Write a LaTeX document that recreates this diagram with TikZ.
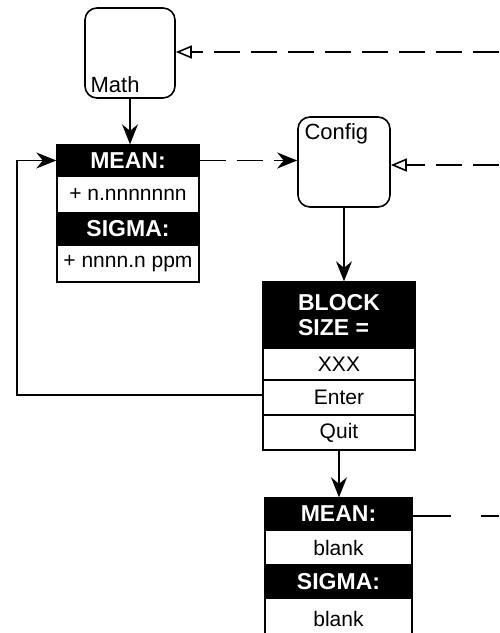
\documentclass[tikz,border=0pt]{standalone}
\usepackage{fontspec}
\setmainfont{Liberation Sans}
\usetikzlibrary{positioning, arrows.meta}

\tikzset{
  window/.style={draw, rounded corners=6pt, line width=0.8pt, minimum width=45pt, minimum height=45pt},
  band/.style={draw, line width=0.7pt, fill=black, text=white, font=\bfseries\fontsize{11.5}{12.5}\selectfont, minimum width=#1, inner sep=0pt},
  cell/.style={draw, line width=0.7pt, fill=white, minimum width=#1, inner sep=0pt},
  flow/.style={->, line width=0.6pt},
  link/.style={line width=0.8pt, dash pattern=on 13pt off 5.5pt},
  recall/.style={-{Triangle[open, length=8pt, width=6.5pt]}},
}

\begin{document}
\begin{tikzpicture}[x=0.5pt, y=-0.5pt, font=\fontsize{10.5}{12.5}\selectfont, >={Stealth[length=10pt, width=8pt]}]
  \useasboundingbox (0,0) rectangle (499,633);
  \clip (0,0) rectangle (499,633);
  % windows
  \node[window, label={[anchor=south west, inner sep=3pt, font=\fontsize{11}{12}\selectfont]south west:Math}] (math) at (130,53) {};
  \node[window, minimum width=46pt, label={[anchor=north west, inner sep=3.5pt, font=\fontsize{11}{12}\selectfont]north west:Config}] (config) at (344,162) {};
  % result display
  \node[band=71pt, minimum height=15.5pt] (mean1) at (128,160.5) {MEAN:};
  \node[cell=71pt, minimum height=18.5pt] (val1) at (128,194.5) {+ n.nnnnnnn};
  \node[band=71pt, minimum height=16pt] (sig1) at (128,229) {SIGMA:};
  \node[cell=71pt, minimum height=18.5pt] (val2) at (128,263.5) {+ nnnn.n ppm};
  % block size menu
  \node[band=76pt, minimum height=33pt, align=left] (block) at (339,315) {BLOCK\\SIZE =};
  \node[cell=76pt, minimum height=16pt] (xxx) at (339,364) {XXX};
  \node[cell=76pt, minimum height=17.5pt] (enter) at (339,397.5) {Enter};
  \node[cell=76pt, minimum height=17.5pt] (quit) at (339,432.5) {Quit};
  % cleared display
  \node[band=73.5pt, minimum height=16pt] (mean2) at (338.5,514) {MEAN:};
  \node[cell=73.5pt, minimum height=17.5pt] (blank1) at (338.5,547.5) {blank};
  \node[band=73.5pt, minimum height=16.5pt] (sig2) at (338.5,581.5) {SIGMA:};
  \node[cell=73.5pt, minimum height=21pt] (blank2) at (338.5,619) {blank};
  % free ends
  \coordinate (in1) at (499,52);
  \coordinate (in2) at (499,165);
  \coordinate (out1) at (499,516);
  \coordinate (loop) at (17,395);
  % connectors
  \draw[flow] (math.south) -- (math.south |- mean1.north);
  \draw[link, ->] (mean1.east) -- (config.west |- mean1.east);
  \draw[link, recall] (in1) -- (math.east |- in1);
  \draw[link, recall] (in2) -- (config.east |- in2);
  \draw[flow] (config.south) -- (config.south |- block.north);
  \draw[flow] (enter.west |- loop) -- (loop) |- (mean1.west);
  \draw[flow] (quit.south) -- (quit.south |- mean2.north);
  \draw[line width=0.8pt, dash pattern=on 19pt off 15pt] (mean2.east |- out1) -- (out1);
\end{tikzpicture}
\end{document}
